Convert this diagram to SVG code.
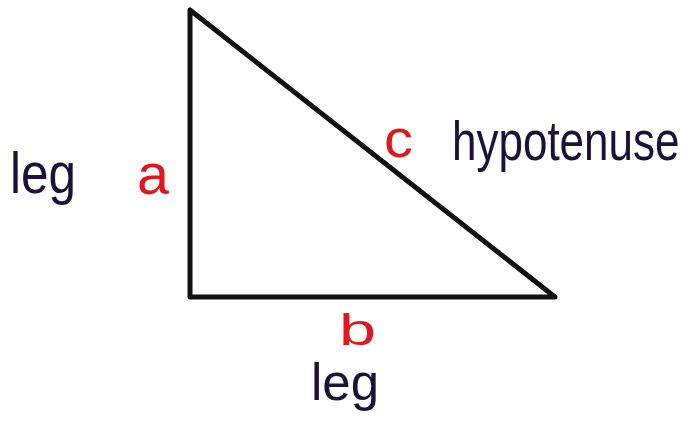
<svg xmlns="http://www.w3.org/2000/svg" width="684" height="425" viewBox="0 0 684 425">
<style>
.word{font-family:"Liberation Sans","DejaVu Sans",sans-serif;fill:#1c1238}
.var{font-family:"Liberation Sans","DejaVu Sans",sans-serif;fill:#e0171c}
</style>
<rect width="684" height="425" fill="#ffffff"/>
<g id="triangle">
<polygon points="190,10 190,297 555,297" fill="none" stroke="#111111" stroke-width="5" stroke-linejoin="round"/>
</g>
<g id="label-leg-a"><text class="word" x="10" y="193" font-size="58" textLength="66" lengthAdjust="spacingAndGlyphs">leg</text></g>
<g id="label-a"><text class="var" x="137" y="194" font-size="58" textLength="32" lengthAdjust="spacingAndGlyphs">a</text></g>
<g id="label-c"><text class="var" x="384" y="157" font-size="54" textLength="29" lengthAdjust="spacingAndGlyphs">c</text></g>
<g id="label-hypotenuse"><text class="word" transform="translate(452,160) scale(1,1.25)" x="0" y="0" font-size="44">hypotenuse</text></g>
<g id="label-b"><text class="var" x="339" y="345" font-size="44" textLength="37" lengthAdjust="spacingAndGlyphs">b</text></g>
<g id="label-leg-b"><text class="word" x="311" y="400" font-size="52" textLength="68" lengthAdjust="spacingAndGlyphs">leg</text></g>
</svg>
